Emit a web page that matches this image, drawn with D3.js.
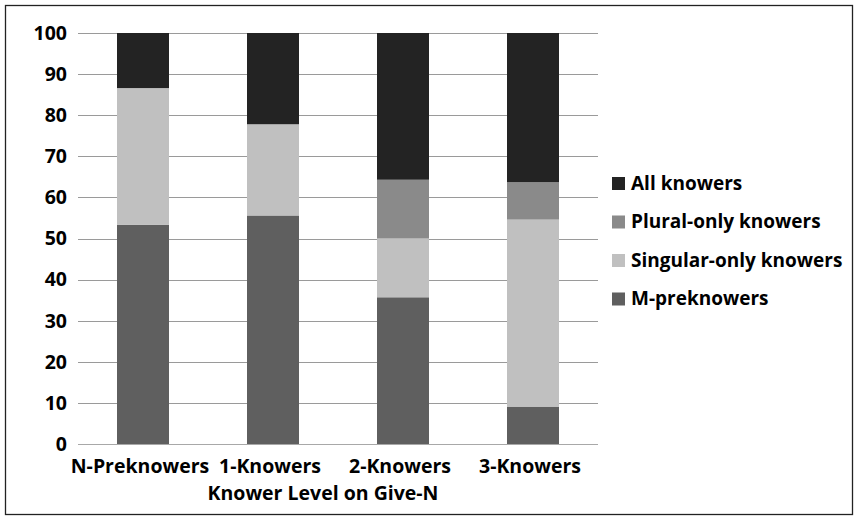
<!DOCTYPE html>
<html>
<head>
    <script src="https://d3js.org/d3.v7.min.js"></script>
    <style>
        body { margin: 0; background: #fff; }
        text { font-family: "Open Sans", sans-serif; font-weight: bold; fill: #000; }
    </style>
</head>
<body>
    <div id="chart"></div>
    <script>
        // categories and series (percent of children)
        const categories = ["N-Preknowers", "1-Knowers", "2-Knowers", "3-Knowers"];
        const seriesNames = ["M-preknowers", "Singular-only knowers", "Plural-only knowers", "All knowers"];
        const mPre = [53.3, 55.6, 35.7, 9.1];
        const singularOnly = [33.3, 22.2, 14.3, 45.5];
        const pluralOnly = [0, 0, 14.3, 9.1];
        const allKnowers = [13.4, 22.2, 35.7, 36.3];
        const yTicks = [0, 10, 20, 30, 40, 50, 60, 70, 80, 90, 100];
        const xTitle = "Knower Level on Give-N";

        const colors = {
            "M-preknowers": "#5f5f5f",
            "Singular-only knowers": "#c0c0c0",
            "Plural-only knowers": "#8a8a8a",
            "All knowers": "#232323"
        };

        const rows = categories.map((c, i) => ({
            cat: c,
            "M-preknowers": mPre[i],
            "Singular-only knowers": singularOnly[i],
            "Plural-only knowers": pluralOnly[i],
            "All knowers": allKnowers[i]
        }));

        const W = 854, H = 520;
        const svg = d3.select("#chart").append("svg")
            .attr("width", W).attr("height", H);

        // outer frame
        svg.append("rect")
            .attr("x", 5.5).attr("y", 5.5)
            .attr("width", 847).attr("height", 509)
            .attr("fill", "#fff").attr("stroke", "#222").attr("stroke-width", 1.3);

        const x = d3.scaleBand().domain(categories).range([78, 598]).paddingInner(0.6).paddingOuter(0.3);
        const y = d3.scaleLinear().domain([0, 100]).range([444, 33]);

        // gridlines
        svg.append("g").selectAll("line")
            .data(yTicks)
            .join("line")
            .attr("x1", 78).attr("x2", 598)
            .attr("y1", d => Math.round(y(d)) + 0.5)
            .attr("y2", d => Math.round(y(d)) + 0.5)
            .attr("stroke", d => d === 0 ? "#a8a8a8" : "#9a9a9a")
            .attr("stroke-width", 1.2);

        // y tick labels
        svg.append("g").selectAll("text")
            .data(yTicks)
            .join("text")
            .attr("x", 67)
            .attr("y", d => y(d))
            .attr("dy", "0.35em")
            .attr("text-anchor", "end")
            .style("font-size", "19.5px")
            .text(d => d);

        // stacked bars
        const stack = d3.stack().keys(seriesNames)(rows);
        svg.append("g").selectAll("g")
            .data(stack)
            .join("g")
            .attr("fill", d => colors[d.key])
            .selectAll("rect")
            .data(d => d)
            .join("rect")
            .attr("x", d => x(d.data.cat))
            .attr("width", x.bandwidth())
            .attr("y", d => y(d[1]))
            .attr("height", d => y(d[0]) - y(d[1]));

        // x labels
        svg.append("g").selectAll("text")
            .data(categories)
            .join("text")
            .attr("x", d => x(d) + x.bandwidth() / 2 - 3)
            .attr("y", 466)
            .attr("dy", "0.35em")
            .attr("text-anchor", "middle")
            .style("font-size", "19.5px")
            .text(d => d);

        svg.append("text")
            .attr("x", 323).attr("y", 493)
            .attr("dy", "0.35em")
            .attr("text-anchor", "middle")
            .style("font-size", "19.5px")
            .text(xTitle);

        // legend (top = All knowers)
        const legendOrder = seriesNames.slice().reverse();
        const lg = svg.append("g").selectAll("g")
            .data(legendOrder)
            .join("g")
            .attr("transform", (d, i) => `translate(612, ${183 + i * 38.5})`);
        lg.append("rect")
            .attr("x", 0).attr("y", -6)
            .attr("width", 13).attr("height", 13)
            .attr("fill", d => colors[d]);
        lg.append("text")
            .attr("x", 19).attr("y", 0)
            .attr("dy", "0.35em")
            .style("font-size", "19px")
            .text(d => d);
    </script>
</body>
</html>
